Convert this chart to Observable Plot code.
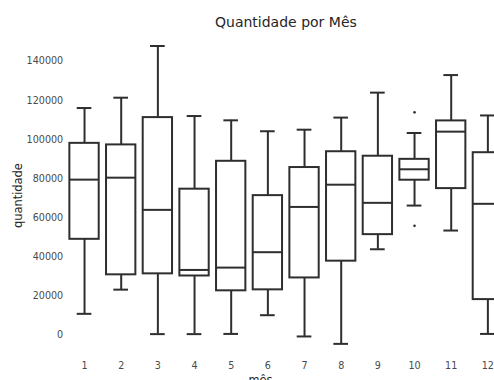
<!DOCTYPE html>
<html><head><meta charset="utf-8">
<script src="https://cdn.jsdelivr.net/npm/d3@7"></script>
<script src="https://cdn.jsdelivr.net/npm/@observablehq/plot@0.6"></script>
<style>
html,body{margin:0;padding:0;overflow:hidden;background:#fff;}
svg{max-width:none !important;}
</style>
</head><body><div id="chart"></div>
<script>
const months = [1, 2, 3, 4, 5, 6, 7, 8, 9, 10, 11, 12];
const whiskerLow  = [10600, 23000, 200, 200, 300, 9900, -1000, -4800, 43700, 66100, 53300, 300];
const q1          = [48800, 30600, 31100, 30000, 22400, 22900, 29000, 37600, 51200, 79100, 74800, 17900];
const median      = [79400, 80400, 63900, 33100, 34300, 42200, 65400, 76800, 67500, 84700, 104000, 67000];
const q3          = [98000, 97200, 111200, 74500, 88800, 71200, 85600, 93700, 91400, 89800, 109500, 93200];
const whiskerHigh = [116100, 121400, 147900, 112000, 109800, 104200, 105000, 111200, 124000, 103300, 133000, 112300];
const outlierMonth = [10, 10];
const outlierValue = [113900, 55700];
const yTicks = [0, 20000, 40000, 60000, 80000, 100000, 120000, 140000];
const title = "Quantidade por Mês";
const xLabel = "mês";
const yLabel = "quantidade";

const stats = months.map((m, i) => ({month: m, lo: whiskerLow[i], q1: q1[i], median: median[i], q3: q3[i], hi: whiskerHigh[i]}));
const outliers = outlierMonth.map((m, i) => ({month: m, value: outlierValue[i]}));

const ink = "#2e2e2e";
const lw = 2;

const chart = Plot.plot({
  width: 520,
  height: 400,
  marginLeft: 65.7,
  marginRight: 14.3,
  marginTop: 30,
  marginBottom: 41.8,
  style: {fontFamily: "DejaVu Sans", fontSize: "9.6px", color: "#4a4a4a", background: "white", maxWidth: "none"},
  x: {domain: [0.5, 12.5]},
  y: {domain: [-12400, 155850]},
  marks: [
    Plot.axisY({ticks: yTicks, tickSize: 0, tickPadding: 3, tickFormat: d3.format("d"), label: null}),
    Plot.axisX({ticks: months, tickSize: 0, tickPadding: 3.5, tickFormat: d3.format("d"), label: null}),
    Plot.ruleX(stats, {x: "month", y1: "lo", y2: "q1", stroke: ink, strokeWidth: lw}),
    Plot.ruleX(stats, {x: "month", y1: "q3", y2: "hi", stroke: ink, strokeWidth: lw}),
    Plot.ruleY(stats, {y: "lo", x1: d => d.month - 0.2, x2: d => d.month + 0.2, stroke: ink, strokeWidth: lw}),
    Plot.ruleY(stats, {y: "hi", x1: d => d.month - 0.2, x2: d => d.month + 0.2, stroke: ink, strokeWidth: lw}),
    Plot.rect(stats, {x1: d => d.month - 0.4, x2: d => d.month + 0.4, y1: "q1", y2: "q3", fill: "white", stroke: ink, strokeWidth: lw}),
    Plot.ruleY(stats, {y: "median", x1: d => d.month - 0.4, x2: d => d.month + 0.4, stroke: ink, strokeWidth: lw}),
    Plot.dot(outliers, {x: "month", y: "value", r: 1.3, fill: ink, stroke: null}),
    Plot.text([title], {text: d => d, frameAnchor: "top", dx: -0.3, dy: -7.8, fontSize: 14, fill: "#262626", lineAnchor: "middle"}),
    Plot.text([yLabel], {text: d => d, frameAnchor: "left", dx: -47.7, dy: 1, rotate: -90, fontSize: 11.4, fill: "#262626", textAnchor: "middle", lineAnchor: "middle"}),
    Plot.text([xLabel], {text: d => d, frameAnchor: "bottom", dx: -25.7, dy: 17, fontSize: 11.4, fill: "#262626", lineAnchor: "top"})
  ]
});
document.getElementById("chart").appendChild(chart);
</script>
</body></html>
